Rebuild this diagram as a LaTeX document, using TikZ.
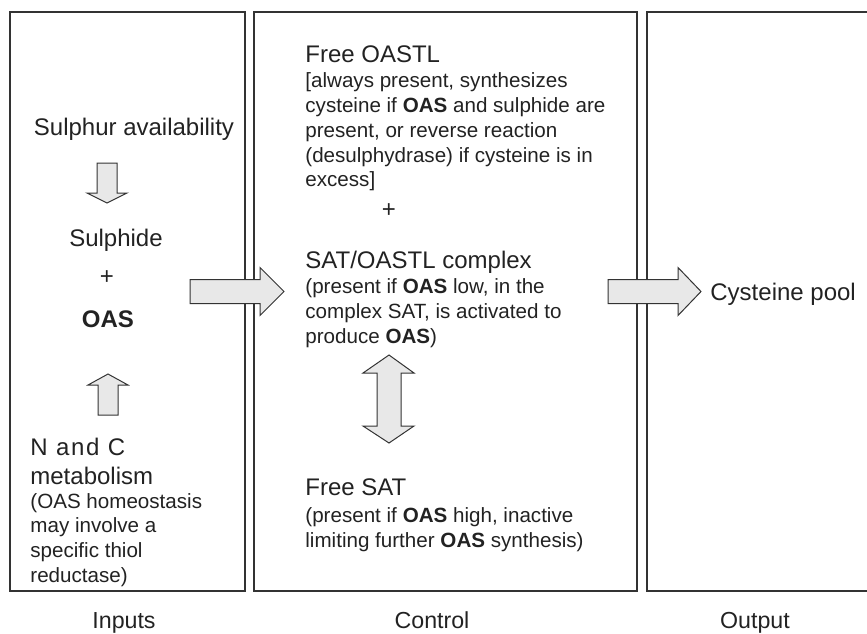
\documentclass[tikz,border=0pt]{standalone}
\usepackage{fontspec}
\setmainfont{Liberation Sans}
\definecolor{ink}{HTML}{222222}
\definecolor{linecol}{HTML}{333333}
\definecolor{arrowfill}{HTML}{E8E8E8}
\begin{document}
\begin{tikzpicture}[x=0.5pt,y=-0.5pt,
  big/.style={font=\fontsize{12}{14}\selectfont, text=ink, inner sep=0pt},
  small/.style={font=\fontsize{10.3}{12}\selectfont, text=ink, inner sep=0pt},
  lab/.style={font=\fontsize{11.6}{13}\selectfont, text=ink, inner sep=0pt},
  panel/.style={draw=linecol, line width=0.6pt},
  blockarrow/.style={draw=linecol, fill=arrowfill, line width=0.5pt, line join=miter}]
\useasboundingbox (0,0) rectangle (867,633);

% panels
\draw[panel] (10,12) rectangle (245,591);
\draw[panel] (254,12) rectangle (637,591);
\draw[panel] (867,12) -- (647,12) -- (647,591) -- (867,591);

% left panel texts
\node[big, anchor=base] (sulphur) at (134,135) {Sulphur availability};
\node[big, anchor=base] (sulphide) at (116,246) {Sulphide};
\node[big, anchor=center] (plusA) at (107,278) {+};
\node[big, anchor=base] (oas) at (108,327) {\textbf{OAS}};
\node[big, anchor=base west] (nc1) at (30,455) {\addfontfeature{LetterSpace=7}N and C};
\node[big, anchor=base west] (nc2) at (30,484) {metabolism};
\node[small, anchor=base west] (nc3) at (30,508) {(OAS homeostasis};
\node[small, anchor=base west] (nc4) at (30,532.5) {may involve a};
\node[small, anchor=base west] (nc5) at (30,557) {specific thiol};
\node[small, anchor=base west] (nc6) at (30,582) {reductase)};

% left panel arrows
\draw[blockarrow] (97,163) -- (117,163) -- (117,193) -- (127,193) -- (107,203) -- (87,193) -- (97,193) -- cycle;
\draw[blockarrow] (98,415) -- (118,415) -- (118,385) -- (128,385) -- (108,374) -- (88,385) -- (98,385) -- cycle;

% middle panel texts
\node[big, anchor=base west] (foastl) at (305,62) {Free OASTL};
\node[small, anchor=base west] (f1) at (305,87) {[always present, synthesizes};
\node[small, anchor=base west] (f2) at (305,112) {cysteine if \textbf{OAS} and sulphide are};
\node[small, anchor=base west] (f3) at (305,137) {present, or reverse reaction};
\node[small, anchor=base west] (f4) at (305,162) {(desulphydrase) if cysteine is in};
\node[small, anchor=base west] (f5) at (305,186) {excess]};
\node[big, anchor=center] (plusB) at (389,211) {+};
\node[big, anchor=base west] (cplx) at (305,268) {SAT/OASTL complex};
\node[small, anchor=base west] (c1) at (305,293) {(present if \textbf{OAS} low, in the};
\node[small, anchor=base west] (c2) at (305,318) {complex SAT, is activated to};
\node[small, anchor=base west] (c3) at (305,343) {produce \textbf{OAS})};
\node[big, anchor=base west] (fsat) at (305,495) {Free SAT};
\node[small, anchor=base west] (s1) at (305,522) {(present if \textbf{OAS} high, inactive};
\node[small, anchor=base west] (s2) at (305,547) {limiting further \textbf{OAS} synthesis)};

% double arrow
\draw[blockarrow] (389,355) -- (414,373) -- (401,373) -- (401,426) -- (414,426) -- (389,443)
  -- (363,426) -- (377,426) -- (377,373) -- (363,373) -- cycle;

% big horizontal arrows
\draw[blockarrow] (190,279.5) -- (260,279.5) -- (260,267.5) -- (284,291.5) -- (260,315.5) -- (260,303.5) -- (190,303.5) -- cycle;
\draw[blockarrow] (608,279.5) -- (678,279.5) -- (678,267.5) -- (701,291.5) -- (678,315.5) -- (678,303.5) -- (608,303.5) -- cycle;

% output
\node[big, anchor=base west] (pool) at (710,300) {Cysteine pool};

% column labels
\node[lab, anchor=base] (inputs) at (124,628) {Inputs};
\node[lab, anchor=base] (control) at (432,628) {Control};
\node[lab, anchor=base] (output) at (755,628) {Output};
\end{tikzpicture}
\end{document}
